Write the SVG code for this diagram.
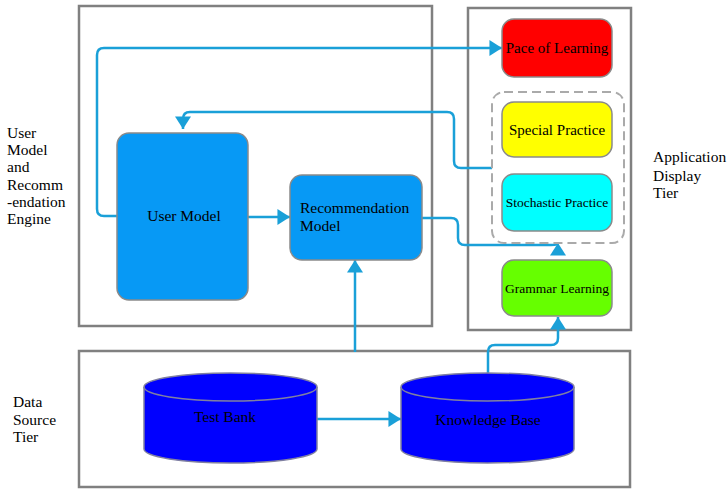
<svg xmlns="http://www.w3.org/2000/svg" width="728" height="489" viewBox="0 0 728 489">
<style>
text{font-family:'Liberation Serif','Times New Roman','DejaVu Serif',serif}
.tier{fill:#fff;stroke:#808080;stroke-width:2.5}
.lbl{font-size:15.5px;fill:#000}
.ntx{fill:#000;text-anchor:middle}
.lft{fill:#000;text-anchor:start}
.node{stroke:#8a8a8a;stroke-width:1.5}
.conn{fill:none;stroke:#1aa0d8;stroke-width:2.5}
.cyl{fill:#0000ff;stroke:#8080a0;stroke-width:1.5}
</style>
<defs>
<marker id="arr" markerUnits="userSpaceOnUse" markerWidth="14" markerHeight="16" viewBox="0 0 12 14" refX="11" refY="7" orient="auto">
<path d="M0,0 L11,7 L0,14 Z" fill="#1aa0d8"/>
</marker>
</defs>
<rect class="tier" x="79" y="6" width="353" height="320"/>
<rect class="tier" x="468" y="8" width="163" height="322"/>
<rect class="tier" x="79" y="351" width="551" height="136"/>
<g id="label-engine" font-family="Liberation Serif, serif">
<text class="lbl" x="7" y="138">User</text>
<text class="lbl" x="7" y="155">Model</text>
<text class="lbl" x="7" y="172">and</text>
<text class="lbl" x="7" y="190">Recomm</text>
<text class="lbl" x="7" y="207">-endation</text>
<text class="lbl" x="7" y="224">Engine</text>
</g>
<g id="label-app">
<text class="lbl" x="653" y="162">Application</text>
<text class="lbl" x="653" y="181">Display</text>
<text class="lbl" x="653" y="198">Tier</text>
</g>
<g id="label-data">
<text class="lbl" x="13" y="407">Data</text>
<text class="lbl" x="13" y="425">Source</text>
<text class="lbl" x="13" y="442">Tier</text>
</g>
<g id="connectors">
<path class="conn" d="M117,216 H104 Q97,216 97,209 V55 Q97,48 104,48 H502" marker-end="url(#arr)"/>
<path class="conn" d="M492,168 H461 Q454,168 454,161 V119 Q454,112 447,112 H190 Q183,112 183,119 V129" marker-end="url(#arr)"/>
<path class="conn" d="M248,217 H290" marker-end="url(#arr)"/>
<path class="conn" d="M422,218 H451 Q458,218 458,225 V238 Q458,245 465,245 H551 Q558,245 558,243" marker-end="url(#arr)"/>
<path class="conn" d="M317,419 H401" marker-end="url(#arr)"/>
<path class="conn" d="M355,352 V260" marker-end="url(#arr)"/>
<path class="conn" d="M488,373 V352 Q488,345 495,345 H551 Q558,345 558,338 V317" marker-end="url(#arr)"/>
</g>
<g id="user-model">
<rect class="node" x="117" y="133" width="131" height="167" rx="12" fill="#0799f5"/>
<text class="ntx" x="184" y="221" font-size="15.5">User Model</text>
</g>
<g id="recommendation-model">
<rect class="node" x="290" y="175" width="132" height="85" rx="12" fill="#0799f5"/>
<text class="lft" x="300" y="213" font-size="15.5">Recommendation</text>
<text class="lft" x="300" y="231" font-size="15.5">Model</text>
</g>
<g id="pace-of-learning">
<rect class="node" x="502" y="19" width="110" height="58" rx="12" fill="#ff0000"/>
<text class="ntx" x="557" y="53" font-size="15">Pace of Learning</text>
</g>
<g id="practice-group">
<rect x="492" y="92" width="132" height="151" rx="12" fill="none" stroke="#aaaaaa" stroke-width="2" stroke-dasharray="9,5"/>
</g>
<g id="special-practice">
<rect class="node" x="502" y="102" width="110" height="55" rx="12" fill="#ffff00"/>
<text class="ntx" x="557" y="135" font-size="15">Special Practice</text>
</g>
<g id="stochastic-practice">
<rect class="node" x="502" y="174" width="110" height="57" rx="12" fill="#00ffff"/>
<text class="ntx" x="557" y="207" font-size="13.5">Stochastic Practice</text>
</g>
<g id="grammar-learning">
<rect class="node" x="502" y="260" width="110" height="56" rx="12" fill="#66ff00"/>
<text class="ntx" x="557" y="293" font-size="13.5">Grammar Learning</text>
</g>
<g id="test-bank">
<path class="cyl" d="M144,387 V449 A86.5,14 0 0 0 317,449 V387 A86.5,14 0 0 0 144,387 Z"/>
<path d="M144,387 A86.5,14 0 0 0 317,387" fill="none" stroke="#8080a0" stroke-width="1.5"/>
<text class="ntx" x="225" y="422" font-size="15.5">Test Bank</text>
</g>
<g id="knowledge-base">
<path class="cyl" d="M401,387 V449 A86.5,14 0 0 0 574,449 V387 A86.5,14 0 0 0 401,387 Z"/>
<path d="M401,387 A86.5,14 0 0 0 574,387" fill="none" stroke="#8080a0" stroke-width="1.5"/>
<text class="ntx" x="488" y="425" font-size="15.5">Knowledge Base</text>
</g>
</svg>
